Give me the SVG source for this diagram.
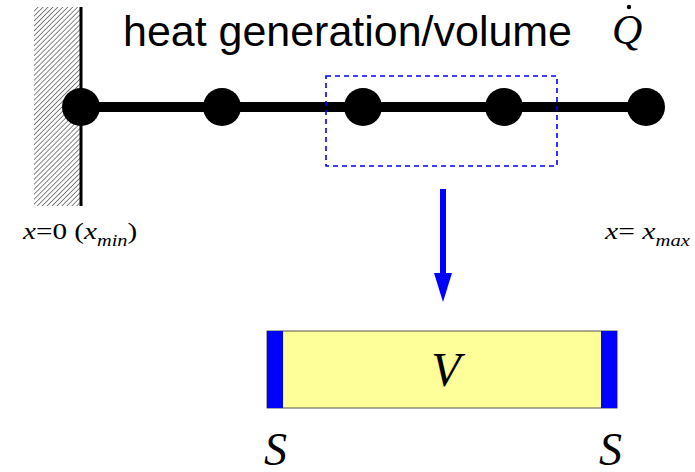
<svg xmlns="http://www.w3.org/2000/svg" width="695" height="472" viewBox="0 0 695 472">
<style>
.sans{font-family:"Liberation Sans",Arial,sans-serif;fill:#000}
.it{font-family:"Liberation Serif","Times New Roman",serif;font-style:italic;fill:#000}
.rm{font-style:normal}
.node{fill:#000}
.blue{fill:#0000FF}
</style>
<defs>
<pattern id="hatch" patternUnits="userSpaceOnUse" width="3.5" height="3.5" patternTransform="rotate(45)">
<rect width="3.5" height="3.5" fill="#fff"/>
<line x1="0" y1="0" x2="0" y2="3.5" stroke="#444" stroke-width="1.3"/>
</pattern>
</defs>
<g id="wall">
<rect x="34" y="7" width="46" height="199" fill="url(#hatch)"/>
<line x1="81" y1="7" x2="81" y2="206" stroke="#000" stroke-width="3"/>
</g>
<g id="title">
<text class="sans" x="123" y="46" font-size="43" textLength="449" lengthAdjust="spacingAndGlyphs">heat generation/volume</text>
<text class="it" x="612" y="44" font-size="42">Q</text>
<circle cx="629" cy="7" r="2.2" fill="#000"/>
</g>
<g id="connectors">
<line x1="81" y1="107" x2="646" y2="107" stroke="#000" stroke-width="10"/>
<line x1="443" y1="189" x2="443" y2="276" stroke="#0000FF" stroke-width="6"/>
<polygon points="434,273 452,273 443,302" class="blue"/>
</g>
<g id="n1"><circle class="node" cx="81" cy="107" r="19"/></g>
<g id="n2"><circle class="node" cx="222" cy="107" r="19"/></g>
<g id="n3"><circle class="node" cx="363" cy="107" r="19"/></g>
<g id="n4"><circle class="node" cx="504" cy="107" r="19"/></g>
<g id="n5"><circle class="node" cx="646" cy="107" r="19"/></g>
<g id="selection">
<rect x="326" y="76" width="231" height="90" fill="none" stroke="#0000FF" stroke-width="1.6" stroke-dasharray="5,4"/>
</g>
<g id="label-xmin" transform="translate(23,239) scale(1.27,1)">
<text class="it" x="0" y="0" font-size="23">x<tspan class="rm">=0 (</tspan>x<tspan font-size="16" dy="7">min</tspan><tspan class="rm" dy="-7">)</tspan></text>
</g>
<g id="label-xmax" transform="translate(605,239) scale(1.29,1)">
<text class="it" x="0" y="0" font-size="23">x<tspan class="rm">= </tspan>x<tspan font-size="16" dy="7">max</tspan></text>
</g>
<g id="volume">
<rect x="267" y="331" width="350" height="77" fill="#FFFF99" stroke="#555" stroke-width="1"/>
<rect x="267" y="331" width="16" height="77" class="blue"/>
<rect x="601" y="331" width="16" height="77" class="blue"/>
<text class="it" x="446" y="386" font-size="48" text-anchor="middle">V</text>
</g>
<g id="surface-left"><text class="it" x="264" y="465" font-size="46">S</text></g>
<g id="surface-right"><text class="it" x="599" y="465" font-size="46">S</text></g>
</svg>
